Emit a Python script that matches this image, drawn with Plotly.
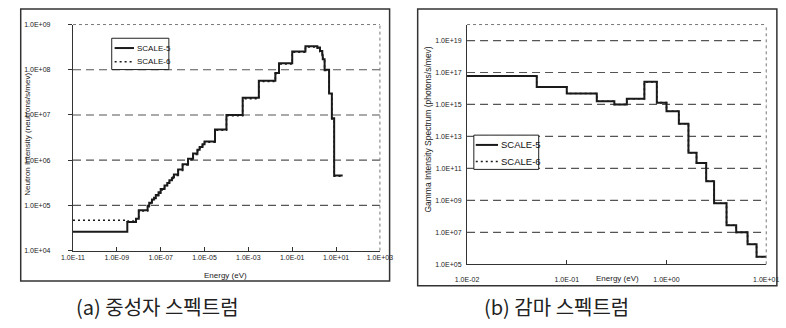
import plotly.graph_objects as go

# ---------------- data ----------------
# Neutron group boundaries (axis units as printed on the chart)
neutron_edges = [1e-11, 3.0e-9, 7.5e-9, 1.0e-8, 2.53e-8, 3.0e-8, 4.0e-8, 5.0e-8, 6.0e-8, 8.0e-8,
                 1.0e-7, 1.5e-7, 2.0e-7, 2.5e-7, 3.25e-7, 3.5e-7, 3.75e-7, 4.0e-7, 6.25e-7, 1.0e-6,
                 1.77e-6, 3.0e-6, 4.75e-6, 6.0e-6, 8.1e-6, 1.0e-5, 3.0e-5, 1.0e-4, 5.5e-4, 3.0e-3,
                 1.7e-2, 2.5e-2, 1.0e-1, 4.0e-1, 9.0e-1, 1.4, 1.85, 2.354, 2.479, 3.0,
                 4.8, 6.434, 8.187, 20.0]
neutron_scale5 = [2.6e4, 4.3e4, 5.1e4, 7.8e4, 9.8e4, 1.15e5, 1.35e5, 1.48e5, 1.7e5, 1.95e5,
                  2.3e5, 2.75e5, 3.15e5, 3.6e5, 4.0e5, 4.1e5, 4.2e5, 4.8e5, 6.2e5, 8.1e5,
                  1.07e6, 1.4e6, 1.7e6, 1.95e6, 2.25e6, 2.6e6, 4.8e6, 1.0e7, 2.4e7, 5.7e7,
                  8.5e7, 1.4e8, 2.55e8, 3.3e8, 3.3e8, 3.1e8, 2.6e8, 2.1e8, 1.7e8, 1.0e8,
                  3.0e7, 8.5e6, 4.6e5]
neutron_scale6 = [4.7e4, 4.5e4, 5.0e4, 7.5e4, 9.4e4, 1.1e5, 1.3e5, 1.42e5, 1.63e5, 1.87e5,
                  2.2e5, 2.64e5, 3.0e5, 3.45e5, 3.85e5, 3.95e5, 4.0e5, 4.6e5, 5.9e5, 7.8e5,
                  1.03e6, 1.34e6, 1.63e6, 1.87e6, 2.15e6, 2.5e6, 4.6e6, 9.6e6, 2.3e7, 5.5e7,
                  8.2e7, 1.35e8, 2.45e8, 3.2e8, 3.2e8, 3.0e8, 2.5e8, 2.0e8, 1.65e8, 9.7e7,
                  2.9e7, 8.2e6, 4.4e5]

gamma_edges = [0.01, 0.05, 0.1, 0.2, 0.3, 0.4, 0.6, 0.8, 1.0, 1.33,
               1.66, 2.0, 2.5, 3.0, 4.0, 5.0, 6.5, 8.0, 10.0]
gamma_scale5 = [6.0e16, 1.26e16, 4.9e15, 1.6e15, 1.0e15, 2.3e15, 2.6e16, 1.3e15, 3.8e14,
                6.2e13, 9.5e11, 2.2e11, 1.6e10, 6.6e8, 2.8e7, 1.0e7, 1.8e6, 3.0e5]
gamma_scale6 = [6.0e16, 1.26e16, 4.9e15, 1.6e15, 1.0e15, 2.3e15, 2.6e16, 1.3e15, 3.8e14,
                6.2e13, 9.5e11, 2.2e11, 1.6e10, 6.6e8, 2.8e7, 1.0e7, 1.8e6, 3.0e5]

neutron_xticks = [1e-11, 1e-9, 1e-7, 1e-5, 1e-3, 1e-1, 1e1, 1e3]
neutron_xlabels = ["1.0E-11", "1.0E-09", "1.0E-07", "1.0E-05", "1.0E-03", "1.0E-01", "1.0E+01", "1.0E+03"]
neutron_yticks = [1e4, 1e5, 1e6, 1e7, 1e8, 1e9]
neutron_ylabels = ["1.0E+04", "1.0E+05", "1.0E+06", "1.0E+07", "1.0E+08", "1.0E+09"]

gamma_xticks = [1e-2, 1e-1, 1e0, 1e1]
gamma_xlabels = ["1.0E-02", "1.0E-01", "1.0E+00", "1.0E+01"]
gamma_yticks = [1e5, 1e7, 1e9, 1e11, 1e13, 1e15, 1e17, 1e19]
gamma_ylabels = ["1.0E+05", "1.0E+07", "1.0E+09", "1.0E+11", "1.0E+13", "1.0E+15", "1.0E+17", "1.0E+19"]

series_names = ["SCALE-5", "SCALE-6"]
captions = ["(a) 중성자 스펙트럼", "(b) 감마 스펙트럼"]
x_title = "Energy (eV)"
y_titles = ["Neutron Intensity (neutrons/s/mev)", "Gamma Intensity Spectrum (photons/s/mev)"]

# ---------------- figure ----------------
W, H = 786, 328
def px(x):
    return x / W
def py(y):
    return 1 - y / H

NARROW = "Liberation Sans Narrow, Arial Narrow, Liberation Sans, Arial, sans-serif"
TICKFONT = dict(family=NARROW, size=7, color="#222")
INK = "#1a1a1a"
DOT = "2px,3px"

fig = go.Figure()

def steps(edges, vals):
    return list(edges), list(vals) + [vals[-1]]

# neutron panel
x6, y6 = steps(neutron_edges, neutron_scale6)
x5, y5 = steps(neutron_edges, neutron_scale5)
fig.add_trace(go.Scatter(x=x6, y=y6, mode="lines", line_shape="hv", name=series_names[1],
                         line=dict(color=INK, width=1.6, dash=DOT), showlegend=False,
                         xaxis="x", yaxis="y"))
fig.add_trace(go.Scatter(x=x5, y=y5, mode="lines", line_shape="hv", name=series_names[0],
                         line=dict(color=INK, width=2), showlegend=False,
                         xaxis="x", yaxis="y"))

# gamma panel
gx6, gy6 = steps(gamma_edges, gamma_scale6)
gx5, gy5 = steps(gamma_edges, gamma_scale5)
fig.add_trace(go.Scatter(x=gx6, y=gy6, mode="lines", line_shape="hv", name=series_names[1],
                         line=dict(color=INK, width=1.6, dash=DOT), showlegend=False,
                         xaxis="x2", yaxis="y2"))
fig.add_trace(go.Scatter(x=gx5, y=gy5, mode="lines", line_shape="hv", name=series_names[0],
                         line=dict(color=INK, width=2), showlegend=False,
                         xaxis="x2", yaxis="y2"))

axis_common = dict(type="log", showgrid=False, zeroline=False, showline=True,
                   linecolor="#333", linewidth=1.2, tickfont=TICKFONT, tickcolor="#333",
                   ticklen=4, tickwidth=1)

fig.update_layout(
    width=W, height=H, margin=dict(l=0, r=0, t=0, b=0),
    paper_bgcolor="white", plot_bgcolor="white", showlegend=False,
    xaxis=dict(axis_common, domain=[px(63), px(380)], range=[-11, 3], anchor="y",
               tickmode="array", tickvals=neutron_xticks, ticktext=neutron_xlabels,
               ticks="inside", ticklabelstandoff=0),
    yaxis=dict(axis_common, domain=[py(252), py(21)], range=[4, 9], anchor="x",
               tickmode="array", tickvals=neutron_yticks, ticktext=neutron_ylabels,
               ticks="outside", ticklabelstandoff=16),
    xaxis2=dict(axis_common, domain=[px(470), px(779)], range=[-2, 1], anchor="y2",
                tickmode="array", tickvals=gamma_xticks, ticktext=gamma_xlabels,
                ticks="inside", ticklabelstandoff=8),
    yaxis2=dict(axis_common, domain=[py(266), py(21)], range=[5, 20], anchor="x2",
                tickmode="array", tickvals=gamma_yticks, ticktext=gamma_ylabels,
                ticks="", ticklabelstandoff=3),
)

shapes = []
# dashed horizontal gridlines
for v in neutron_yticks[1:-1]:
    shapes.append(dict(type="line", xref="x domain", yref="y", x0=0, x1=1, y0=v, y1=v,
                       line=dict(color="#555", width=1.2, dash="8px,5px"), layer="below"))
for v in gamma_yticks[1:]:
    shapes.append(dict(type="line", xref="x2 domain", yref="y2", x0=0, x1=1, y0=v, y1=v,
                       line=dict(color="#555", width=1.2, dash="8px,5px"), layer="below"))
# dotted top/right plot borders
for xr, yr in (("x domain", "y domain"), ("x2 domain", "y2 domain")):
    shapes.append(dict(type="line", xref=xr, yref=yr, x0=0, x1=1, y0=1, y1=1,
                       line=dict(color="#777", width=1, dash="dot")))
    shapes.append(dict(type="line", xref=xr, yref=yr, x0=1, x1=1, y0=0, y1=1,
                       line=dict(color="#777", width=1, dash="dot")))
# outer panel frames
shapes.append(dict(type="rect", xref="paper", yref="paper", x0=px(9), x1=px(390), y0=py(283), y1=py(5),
                   line=dict(color="#333", width=1.5)))
shapes.append(dict(type="rect", xref="paper", yref="paper", x0=px(419), x1=px(790), y0=py(288), y1=py(5),
                   line=dict(color="#333", width=1.5)))

# legend boxes (one per panel)
legend_specs = [
    dict(box=(103, 162, 35, 67), sx=(106, 126), rows=(45, 59), tx=127, fs=8),
    dict(box=(477, 544, 134, 169), sx=(479, 502), rows=(144, 161), tx=503, fs=9.5),
]
annotations = []
for spec in legend_specs:
    bx0, bx1, by0, by1 = spec["box"]
    shapes.append(dict(type="rect", xref="paper", yref="paper", x0=px(bx0), x1=px(bx1),
                       y0=py(by1), y1=py(by0), line=dict(color="#222", width=1),
                       fillcolor="white"))
    for i, name in enumerate(series_names):
        ry = spec["rows"][i]
        shapes.append(dict(type="line", xref="paper", yref="paper",
                           x0=px(spec["sx"][0]), x1=px(spec["sx"][1]), y0=py(ry), y1=py(ry),
                           line=dict(color=INK, width=2 if i == 0 else 1.6,
                                     dash="solid" if i == 0 else DOT)))
        annotations.append(dict(text=name, x=px(spec["tx"]), y=py(ry), xref="paper", yref="paper",
                                xanchor="left", yanchor="middle", showarrow=False,
                                font=dict(family=NARROW, size=spec["fs"], color="#111")))
fig.update_layout(shapes=shapes)

LABELFONT = dict(family=NARROW, size=8, color="#222")
annotations += [
    dict(text=x_title, x=px(221), y=py(277), xref="paper", yref="paper", showarrow=False,
         xanchor="center", yanchor="middle", font=LABELFONT),
    dict(text=x_title, x=px(625), y=py(280), xref="paper", yref="paper", showarrow=False,
         xanchor="center", yanchor="middle", font=LABELFONT),
    dict(text=y_titles[0], x=px(16), y=py(133), xref="paper", yref="paper", showarrow=False,
         xanchor="center", yanchor="middle", textangle=-90, font=LABELFONT),
    dict(text=y_titles[1], x=px(430), y=py(128), xref="paper", yref="paper", showarrow=False,
         xanchor="center", yanchor="middle", textangle=-90, font=dict(LABELFONT, size=8.5)),
    dict(text=captions[0], x=px(150), y=py(309), xref="paper", yref="paper", showarrow=False,
         xanchor="center", yanchor="middle",
         font=dict(family="Noto Sans CJK KR", size=20, color="#222")),
    dict(text=captions[1], x=px(562), y=py(309), xref="paper", yref="paper", showarrow=False,
         xanchor="center", yanchor="middle",
         font=dict(family="Noto Sans CJK KR", size=20, color="#222")),
]
fig.update_layout(annotations=annotations)

fig.write_html("out.html", config={"displayModeBar": False},
               post_script="document.body.style.margin='0';")
